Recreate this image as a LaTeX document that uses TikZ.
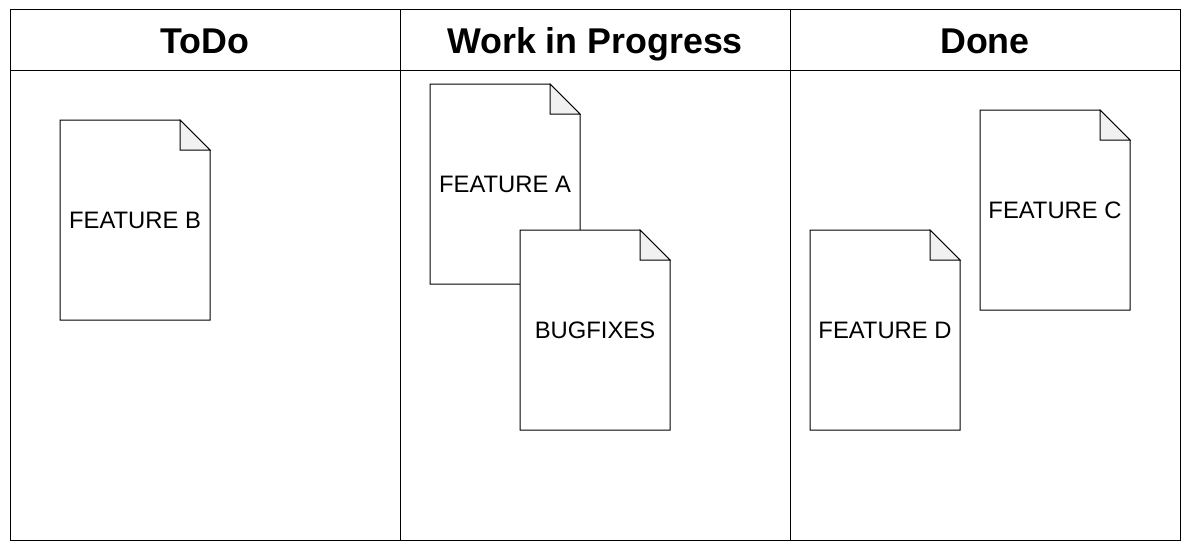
\documentclass[tikz,border=0pt]{standalone}
\usepackage{fontspec}
\setmainfont{Liberation Sans}
\usepackage{tikz}
\usetikzlibrary{positioning}
\definecolor{foldgray}{HTML}{F1F1F1}
\tikzset{%
	head/.style   = {draw, rectangle, minimum width = 390, minimum height = 60, inner sep = 0, outer sep = 0, text height = 26, text depth = 0, font = \fontsize{35.8}{42}\selectfont\bfseries}, % Lane title
	lane/.style   = {draw, rectangle, minimum width = 390, minimum height = 470, inner sep = 0, outer sep = 0}, % Lane body
	note/.style   = {rectangle, fill=white, minimum width = 150, minimum height = 200, inner sep = 0, outer sep = 0, font = \fontsize{23.8}{28}\selectfont}, % Card
}
\begin{document}
\begin{tikzpicture}[x=1pt, y=-1pt, line width=1pt]
	\useasboundingbox (0,0) rectangle (1190,551);
	\node[head] (todo) at (205,40) {ToDo};
	\node[head, right=0 of todo] (wip) {Work in Progress};
	\node[head, right=0 of wip] (done) {Done};
	\node[lane, below=0 of todo] (todol) {};
	\node[lane, below=0 of wip] (wipl) {};
	\node[lane, below=0 of done] (donel) {};
	% cards, drawn in order so that later ones cover earlier ones
	\foreach \n/\x/\y/\t in {fb/135/220/FEATURE B, fa/505/184/FEATURE A, bug/595/330/BUGFIXES, fd/885/330/FEATURE D, fc/1055/210/FEATURE C} {
		\node[note] (\n) at (\x,\y) {\t};
		\draw (\n.north west) -- ([xshift=-30]\n.north east) -- ([yshift=-30]\n.north east) -- (\n.south east) -- (\n.south west) -- cycle;
		\draw[fill=foldgray] ([xshift=-30]\n.north east) -- ([xshift=-30,yshift=-30]\n.north east) -- ([yshift=-30]\n.north east) -- cycle;
	}
\end{tikzpicture}
\end{document}
